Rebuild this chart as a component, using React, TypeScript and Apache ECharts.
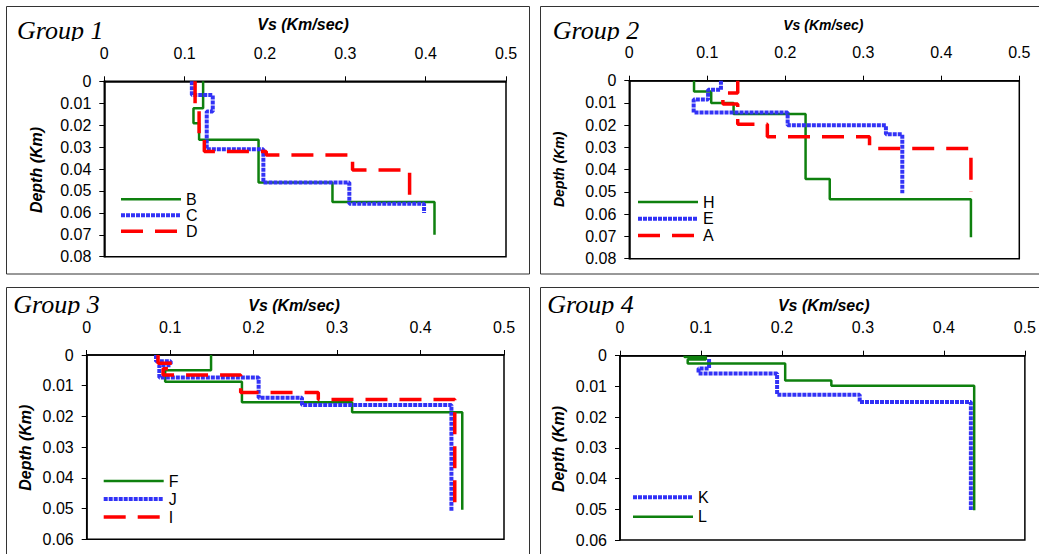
import { useEffect, useRef } from "react";
import * as echarts from "echarts";

// ---- axis settings / tick labels ----
const X_MIN = 0;
const X_MAX = 0.5;
const X_STEP = 0.1;
const DEPTH_MAX_UPPER = 0.08; // groups 1 & 2
const DEPTH_MAX_LOWER = 0.06; // groups 3 & 4
const DEPTH_STEP = 0.01;
const X_NAME = "Vs (Km/sec)";
const Y_NAME = "Depth (Km)";
const GROUP_TITLES = ["Group 1", "Group 2", "Group 3", "Group 4"];

// ---- Group 1 (layer velocities and layer boundary depths) ----
const G1_NAMES = ["B", "C", "D"];
const G1_B_VS = [0.123, 0.111, 0.118, 0.192, 0.284, 0.411];
const G1_B_DEPTH = [0, 0.0123, 0.0191, 0.0267, 0.0462, 0.055, 0.07];
const G1_C_VS = [0.109, 0.135, 0.1275, 0.198, 0.305, 0.398];
const G1_C_DEPTH = [0, 0.0062, 0.0138, 0.031, 0.0462, 0.0559, 0.0601];
const G1_D_VS = [0.113, 0.118, 0.1245, 0.2016, 0.309, 0.38];
const G1_D_DEPTH = [0, 0.0115, 0.025, 0.032, 0.0336, 0.0404, 0.0553];

// ---- Group 2 ----
const G2_NAMES = ["H", "E", "A"];
const G2_H_VS = [0.083, 0.105, 0.1337, 0.226, 0.257, 0.438];
const G2_H_DEPTH = [0, 0.0048, 0.01, 0.015, 0.0442, 0.0533, 0.0704];
const G2_E_VS = [0.1175, 0.101, 0.0825, 0.203, 0.329, 0.35];
const G2_E_DEPTH = [0, 0.0041, 0.0085, 0.0143, 0.02, 0.0241, 0.0506];
const G2_A_VS = [0.139, 0.12, 0.139, 0.177, 0.308, 0.438];
const G2_A_DEPTH = [0, 0.0055, 0.0105, 0.0196, 0.0252, 0.0305, 0.05];

// ---- Group 3 ----
const G3_NAMES = ["F", "J", "I"];
const G3_F_VS = [0.149, 0.094, 0.186, 0.318, 0.45];
const G3_F_DEPTH = [0, 0.005, 0.0087, 0.0154, 0.0186, 0.0504];
const G3_J_VS = [0.083, 0.1006, 0.087, 0.206, 0.258, 0.437];
const G3_J_DEPTH = [0, 0.002, 0.0033, 0.0073, 0.0139, 0.0163, 0.0508];
const G3_I_VS = [0.0855, 0.1035, 0.0915, 0.1845, 0.2775, 0.441];
const G3_I_DEPTH = [0, 0.0027, 0.0045, 0.0065, 0.0122, 0.0145, 0.05];

// ---- Group 4 ----
const G4_NAMES = ["K", "L"];
const G4_K_VS = [0.11, 0.097, 0.194, 0.296, 0.4333];
const G4_K_DEPTH = [0.0011, 0.0042, 0.0058, 0.0127, 0.0151, 0.0502];
const G4_L_VS = [0.0796, 0.106, 0.0836, 0.204, 0.261, 0.4374];
const G4_L_DEPTH = [0, 0.0004, 0.0012, 0.0025, 0.0081, 0.0098, 0.0503];

type Kind = "green" | "blue" | "red";

const LINE_STYLES: Record<Kind, any> = {
  green: { color: "#0e800e", width: 2.5, type: "solid" },
  blue: { color: "#3232f6", width: 4, type: [4, 1] },
  red: { color: "#ff0000", width: 3.5, type: [22, 12] },
};

function steps(vs: number[], depth: number[]): number[][] {
  const pts: number[][] = [];
  vs.forEach((v, i) => {
    pts.push([v, depth[i]]);
    pts.push([v, depth[i + 1]]);
  });
  return pts;
}

const SANS = "'Liberation Sans', Arial, sans-serif";
const SERIF = "'Liberation Serif', 'Times New Roman', serif";

interface Panel {
  grid: { left: number; top: number; width: number; height: number };
  depthMax: number;
  series: { name: string; kind: Kind; vs: number[]; depth: number[] }[];
  legend: { left: number; top: number; gap: number };
  box: { x: number; y: number; w: number; h: number };
  title: { x: number; y: number };
  xName: { x: number; y: number; size: number };
  yName: { x: number; y: number; size: number };
}

const PANELS: Panel[] = [
  {
    grid: { left: 104.3, top: 81.3, width: 401.7, height: 175.4 },
    depthMax: DEPTH_MAX_UPPER,
    series: [
      { name: G1_NAMES[0], kind: "green", vs: G1_B_VS, depth: G1_B_DEPTH },
      { name: G1_NAMES[1], kind: "blue", vs: G1_C_VS, depth: G1_C_DEPTH },
      { name: G1_NAMES[2], kind: "red", vs: G1_D_VS, depth: G1_D_DEPTH },
    ],
    legend: { left: 119, top: 191.3, gap: 0 },
    box: { x: 6.5, y: 6.5, w: 523, h: 267.5 },
    title: { x: 17, y: 30.5 },
    xName: { x: 303, y: 24.5, size: 16 },
    yName: { x: 36, y: 170, size: 16 },
  },
  {
    grid: { left: 629.3, top: 80.7, width: 390, height: 178 },
    depthMax: DEPTH_MAX_UPPER,
    series: [
      { name: G2_NAMES[0], kind: "green", vs: G2_H_VS, depth: G2_H_DEPTH },
      { name: G2_NAMES[1], kind: "blue", vs: G2_E_VS, depth: G2_E_DEPTH },
      { name: G2_NAMES[2], kind: "red", vs: G2_A_VS, depth: G2_A_DEPTH },
    ],
    legend: { left: 636, top: 194, gap: 0.7 },
    box: { x: 540.5, y: 6.5, w: 520, h: 267.5 },
    title: { x: 552.7, y: 30.5 },
    xName: { x: 823.3, y: 25, size: 14 },
    yName: { x: 559.3, y: 169.3, size: 14 },
  },
  {
    grid: { left: 86.7, top: 355, width: 417.3, height: 184.3 },
    depthMax: DEPTH_MAX_LOWER,
    series: [
      { name: G3_NAMES[0], kind: "green", vs: G3_F_VS, depth: G3_F_DEPTH },
      { name: G3_NAMES[1], kind: "blue", vs: G3_J_VS, depth: G3_J_DEPTH },
      { name: G3_NAMES[2], kind: "red", vs: G3_I_VS, depth: G3_I_DEPTH },
    ],
    legend: { left: 101.7, top: 473, gap: 2 },
    box: { x: 6.5, y: 287.5, w: 523, h: 300 },
    title: { x: 13.3, y: 304.5 },
    xName: { x: 294, y: 305.5, size: 16 },
    yName: { x: 25, y: 447.7, size: 16 },
  },
  {
    grid: { left: 620, top: 355.7, width: 408.3, height: 184.3 },
    depthMax: DEPTH_MAX_LOWER,
    series: [
      { name: G4_NAMES[0], kind: "blue", vs: G4_K_VS, depth: G4_K_DEPTH },
      { name: G4_NAMES[1], kind: "green", vs: G4_L_VS, depth: G4_L_DEPTH },
    ],
    legend: { left: 631, top: 489.3, gap: 3.4 },
    box: { x: 540.5, y: 287.5, w: 520, h: 300 },
    title: { x: 547.3, y: 304.5 },
    xName: { x: 823.7, y: 305.5, size: 16 },
    yName: { x: 558.3, y: 449, size: 16 },
  },
];

function buildOption() {
  const grid: any[] = [];
  const xAxis: any[] = [];
  const yAxis: any[] = [];
  const legend: any[] = [];
  const series: any[] = [];
  const graphic: any[] = [];

  PANELS.forEach((p, gi) => {
    grid.push({ ...p.grid, show: true, borderColor: "#000", borderWidth: 1.5, backgroundColor: "transparent" });
    xAxis.push({
      gridIndex: gi,
      type: "value",
      position: "top",
      min: X_MIN,
      max: X_MAX,
      interval: X_STEP,
      axisLine: { show: true, onZero: false, lineStyle: { color: "#000", width: 1.5 } },
      axisTick: { show: true, length: 5, lineStyle: { color: "#000", width: 1 } },
      axisLabel: {
        margin: 22,
        fontSize: 16,
        lineHeight: 12,
        color: "#000",
        fontFamily: SANS,
        formatter: (v: number) => String(+v.toFixed(1)),
      },
      splitLine: { show: false },
    });
    yAxis.push({
      gridIndex: gi,
      type: "value",
      inverse: true,
      min: 0,
      max: p.depthMax,
      interval: DEPTH_STEP,
      axisLine: { show: true, onZero: false, lineStyle: { color: "#000", width: 1.5 } },
      axisTick: { show: true, length: 5, lineStyle: { color: "#000", width: 1 } },
      axisLabel: {
        margin: 13,
        fontSize: 16,
        color: "#000",
        fontFamily: SANS,
        formatter: (v: number) => String(+v.toFixed(2)),
      },
      splitLine: { show: false },
    });
    legend.push({
      data: p.series.map((s) => ({
        name: s.name,
        lineStyle: { ...LINE_STYLES[s.kind] },
        itemStyle: { opacity: 0, borderWidth: 0 },
      })),
      orient: "vertical",
      left: p.legend.left,
      top: p.legend.top,
      itemWidth: 60,
      itemHeight: 16,
      itemGap: p.legend.gap,
      padding: 0,
      selectedMode: false,
      itemStyle: { opacity: 0, borderWidth: 0 },
      textStyle: { color: "#000", fontSize: 16, fontFamily: SANS, lineHeight: 16, padding: [0, 0, 0, 0] },
    });
    p.series.forEach((s) => {
      series.push({
        type: "line",
        name: s.name,
        xAxisIndex: gi,
        yAxisIndex: gi,
        data: steps(s.vs, s.depth),
        symbol: "none",
        showSymbol: false,
        lineStyle: LINE_STYLES[s.kind],
        itemStyle: { color: LINE_STYLES[s.kind].color },
        silent: true,
        clip: true,
      });
    });

    graphic.push({
      type: "rect",
      shape: { x: p.box.x, y: p.box.y, width: p.box.w, height: p.box.h },
      style: { fill: "none", stroke: "#333", lineWidth: 1 },
      silent: true,
      z: 1,
    });
    graphic.push({
      type: "text",
      x: p.title.x,
      y: p.title.y,
      style: {
        text: GROUP_TITLES[gi],
        font: `italic 26px ${SERIF}`,
        lineHeight: 18,
        fill: "#000",
        align: "left",
        verticalAlign: "middle",
      },
      silent: true,
      z: 10,
    });
    // the reference's title box clips the descender of "p"
    graphic.push({
      type: "rect",
      shape: { x: p.title.x - 2, y: p.title.y + 10.5, width: 94, height: 4 },
      style: { fill: "#fff" },
      silent: true,
      z: 11,
    });
    graphic.push({
      type: "text",
      x: p.xName.x,
      y: p.xName.y,
      style: {
        text: X_NAME,
        font: `italic bold ${p.xName.size}px ${SANS}`,
        fill: "#000",
        align: "center",
        verticalAlign: "middle",
      },
      silent: true,
      z: 10,
    });
    graphic.push({
      type: "text",
      x: p.yName.x,
      y: p.yName.y,
      rotation: Math.PI / 2,
      style: {
        text: Y_NAME,
        font: `italic bold ${p.yName.size}px ${SANS}`,
        fill: "#000",
        align: "center",
        verticalAlign: "middle",
      },
      silent: true,
      z: 10,
    });
  });

  return {
    animation: false,
    backgroundColor: "#fff",
    grid,
    xAxis,
    yAxis,
    legend,
    series,
    graphic,
  };
}

export default function App() {
  const ref = useRef<HTMLDivElement>(null);
  useEffect(() => {
    document.body.style.margin = "0";
    if (!ref.current) return;
    const chart = echarts.init(ref.current, null, { renderer: "svg" });
    chart.setOption(buildOption() as any);
    return () => {
      chart.dispose();
    };
  }, []);
  return <div ref={ref} style={{ width: 1039, height: 554 }} />;
}
